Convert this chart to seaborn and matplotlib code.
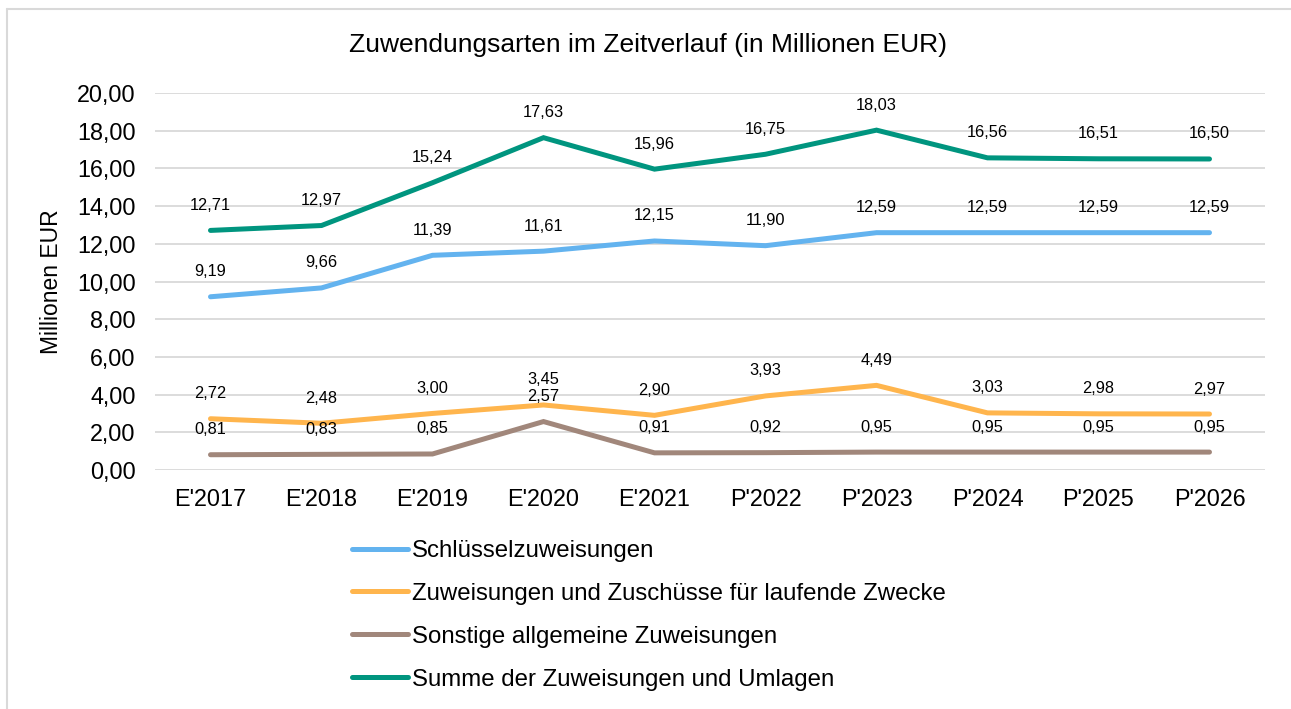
import pandas as pd
import matplotlib
matplotlib.use("Agg")
from matplotlib import pyplot as plt
from matplotlib.lines import Line2D
import seaborn as sns

years = ["E'2017", "E'2018", "E'2019", "E'2020", "E'2021",
         "P'2022", "P'2023", "P'2024", "P'2025", "P'2026"]
schluessel = [9.19, 9.66, 11.39, 11.61, 12.15, 11.90, 12.59, 12.59, 12.59, 12.59]
laufend = [2.72, 2.48, 3.00, 3.45, 2.90, 3.93, 4.49, 3.03, 2.98, 2.97]
sonstige = [0.81, 0.83, 0.85, 2.57, 0.91, 0.92, 0.95, 0.95, 0.95, 0.95]
summe = [12.71, 12.97, 15.24, 17.63, 15.96, 16.75, 18.03, 16.56, 16.51, 16.50]

series = ["Schlüsselzuweisungen",
          "Zuweisungen und Zuschüsse für laufende Zwecke",
          "Sonstige allgemeine Zuweisungen",
          "Summe der Zuweisungen und Umlagen"]
colors = ["#63B3EF", "#FFB54D", "#A1877B", "#00957F"]

df = pd.DataFrame({"Jahr": years, series[0]: schluessel, series[1]: laufend,
                   series[2]: sonstige, series[3]: summe})
long = df.melt(id_vars="Jahr", var_name="Art", value_name="Wert")

sns.set_style("white")
plt.rcParams["font.family"] = ["Liberation Sans", "DejaVu Sans"]
plt.rcParams["text.color"] = "black"
plt.rcParams["axes.labelcolor"] = "black"

fig = plt.figure(figsize=(12.91, 7.09), dpi=100)
ax = fig.add_axes([155 / 1291, 1 - 470 / 709, 1110 / 1291, 377 / 709])

sns.lineplot(data=long, x="Jahr", y="Wert", hue="Art", hue_order=series,
             palette=colors, linewidth=3.6, ax=ax, legend=False, sort=False)
for ln in ax.get_lines():
    ln.set_solid_capstyle("round")
    ln.set_solid_joinstyle("miter")

# Datenbeschriftungen über den Punkten
for s in series:
    for i, v in enumerate(df[s]):
        ax.annotate(f"{v:.2f}".replace(".", ","), (i, v), xytext=(0, 18),
                    textcoords="offset points", ha="center", va="center",
                    fontsize=11.8, color="black")

ax.set_xlim(-0.5, 9.5)
ax.set_ylim(0, 20)
ax.set_yticks(range(0, 21, 2))
ax.set_yticklabels([f"{t:.2f}".replace(".", ",") for t in range(0, 21, 2)])
ax.yaxis.grid(True, color="#D9D9D9", linewidth=1.3)
ax.set_axisbelow(True)
for sp in ax.spines.values():
    sp.set_visible(False)
ax.tick_params(axis="both", length=0, labelsize=16.8, colors="black")
ax.tick_params(axis="x", pad=13)
ax.tick_params(axis="y", pad=14)
ax.set_xlabel("")
ax.set_ylabel("Millionen EUR", fontsize=16.5, labelpad=10, color="black")

fig.text(648 / 1291, 1 - 45 / 709, "Zuwendungsarten im Zeitverlauf (in Millionen EUR)",
         ha="center", va="center", fontsize=19, color="black")

handles = [Line2D([0], [0], color=c, linewidth=3.6, solid_capstyle="round") for c in colors]
fig.legend(handles, series, loc="upper left", bbox_to_anchor=(352 / 1291, 1 - 540 / 709),
           frameon=False, fontsize=17.3, handlelength=2.35, handletextpad=0.15,
           labelspacing=0.87, borderaxespad=0, borderpad=0, labelcolor="black")

# Rahmen des Diagramms (oben und links sichtbar)
fig.add_artist(Line2D([7 / 1291, 7 / 1291], [0, 1 - 9 / 709], color="#D9D9D9",
                      linewidth=1.5, transform=fig.transFigure))
fig.add_artist(Line2D([7 / 1291, 1], [1 - 9 / 709, 1 - 9 / 709], color="#D9D9D9",
                      linewidth=1.5, transform=fig.transFigure))

fig.savefig("out.png", dpi=100)
